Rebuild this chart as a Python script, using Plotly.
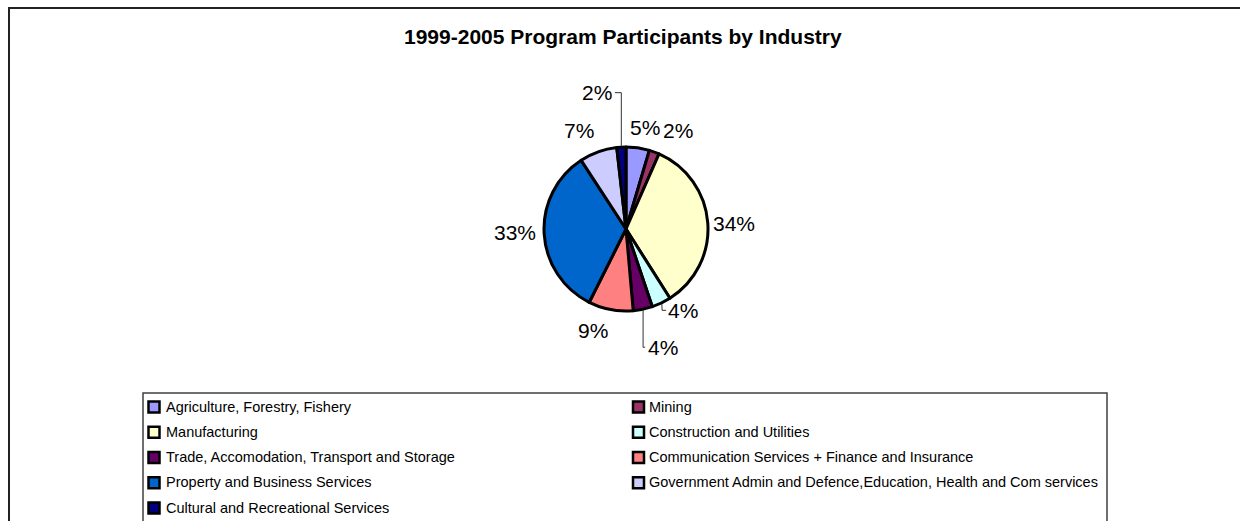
import math
import plotly.graph_objects as go

# ---- data -------------------------------------------------------------
categories = [
    "Agriculture, Forestry, Fishery",
    "Mining",
    "Manufacturing",
    "Construction and Utilities",
    "Trade, Accomodation, Transport and Storage",
    "Communication Services + Finance and Insurance",
    "Property and Business Services",
    "Government Admin and Defence,Education, Health and Com services",
    "Cultural and Recreational Services",
]
shares = [4.6, 2.0, 34.4, 3.8, 3.8, 8.8, 33.4, 7.4, 1.8]
colors = ["#9999FF", "#993366", "#FFFFCC", "#CCFFFF", "#660066",
          "#FF8080", "#0066CC", "#CCCCFF", "#000080"]
title_text = "1999-2005 Program Participants by Industry"

# ---- geometry (pixels) ------------------------------------------------
W, H = 1240, 521
FONT = "Liberation Sans, Arial, sans-serif"


def px(x):
    return x / W


def py(y):
    return 1 - y / H


CX, CY, R = 626, 229, 82          # pie centre / radius
LABEL_R = 108                      # default radius of percentage labels
LABEL_SIZE = 21

# hand-tuned label offsets (px) so neighbouring labels don't collide
label_nudge = {
    0: (3.4, 5.2), 1: (15.1, 3.1), 2: (0.3, 3.1), 3: (10.7, -16.1),
    4: (15.1, 12.6), 5: (-13.1, -4.8), 6: (-2.9, -2.8), 7: (-10.7, 3.3),
    8: (-23.2, -28.5),
}
# slices whose labels are tied back to the pie with a leader line
leader_kind = {8: "up", 4: "down", 3: "side"}

total = sum(shares)
pct_text = [f"{round(100 * v / total)}%" for v in shares]

fig = go.Figure()
fig.add_trace(go.Pie(
    labels=categories, values=shares, sort=False,
    direction="clockwise", rotation=0,
    marker=dict(colors=colors, line=dict(color="black", width=3)),
    textinfo="none", hoverinfo="label+percent", showlegend=False,
    domain=dict(x=[px(CX - R), px(CX + R)], y=[py(CY + R), py(CY - R)]),
))

annotations = []
shapes = []

# outer chart frame
shapes.append(dict(type="rect", xref="paper", yref="paper",
                   x0=px(9), x1=px(1262), y0=py(8), y1=py(545),
                   line=dict(color="#222222", width=2), layer="below"))

# title
annotations.append(dict(text=f"<b>{title_text}</b>", x=px(623), y=py(37),
                        xref="paper", yref="paper", showarrow=False,
                        xanchor="center", yanchor="middle",
                        font=dict(family=FONT, size=21, color="black")))

# percentage labels
cum = 0.0
for i, v in enumerate(shares):
    theta = 2 * math.pi * (cum + v / 2) / total
    cum += v
    sx, sy = math.sin(theta), -math.cos(theta)
    dx, dy = label_nudge.get(i, (0, 0))
    lx = CX + LABEL_R * sx + dx
    ly = CY + LABEL_R * sy + dy
    annotations.append(dict(text=pct_text[i], x=px(lx), y=py(ly),
                            xref="paper", yref="paper", showarrow=False,
                            xanchor="center", yanchor="middle",
                            font=dict(family=FONT, size=LABEL_SIZE, color="black")))
    kind = leader_kind.get(i)
    if kind:
        hw = 0.5 * (0.556 * (len(pct_text[i]) - 1) + 0.889) * LABEL_SIZE
        ex, ey = CX + (R + 1) * sx, CY + (R + 1) * sy
        if kind == "up":
            pts = [(ex, ey), (ex, ly), (lx + hw + 3, ly)]
        elif kind == "down":
            pts = [(ex, ey), (ex, ly), (lx - hw - 3, ly)]
        else:
            pts = [(ex, ey), (lx - hw - 6, ly), (lx - hw - 2, ly)]
        path = "M " + " L ".join(f"{px(a):.5f},{py(b):.5f}" for a, b in pts)
        shapes.append(dict(type="path", xref="paper", yref="paper", path=path,
                           line=dict(color="#333333", width=1)))

# legend box and entries (two columns, row-major order)
shapes.append(dict(type="rect", xref="paper", yref="paper",
                   x0=px(143), x1=px(1107), y0=py(393), y1=py(545),
                   line=dict(color="#404040", width=1.5)))
marker_cx = [154, 638.5]
text_x = [163.5, 646.5]
row_y0, row_step, box = 407, 25.25, 11
for i, (cat, col) in enumerate(zip(categories, colors)):
    r, c = divmod(i, 2)
    yc = row_y0 + r * row_step
    shapes.append(dict(type="rect", xref="paper", yref="paper",
                       x0=px(marker_cx[c] - box / 2), x1=px(marker_cx[c] + box / 2),
                       y0=py(yc + box / 2), y1=py(yc - box / 2),
                       fillcolor=col, line=dict(color="black", width=2.5)))
    annotations.append(dict(text=cat, x=px(text_x[c]), y=py(yc - 0.3),
                            xref="paper", yref="paper", showarrow=False,
                            xanchor="left", yanchor="middle",
                            font=dict(family=FONT, size=14.5, color="black")))

fig.update_layout(
    width=W, height=H, autosize=False,
    margin=dict(l=0, r=0, t=0, b=0, pad=0),
    paper_bgcolor="white", plot_bgcolor="white",
    annotations=annotations, shapes=shapes,
)

fig.write_html("out.html")
